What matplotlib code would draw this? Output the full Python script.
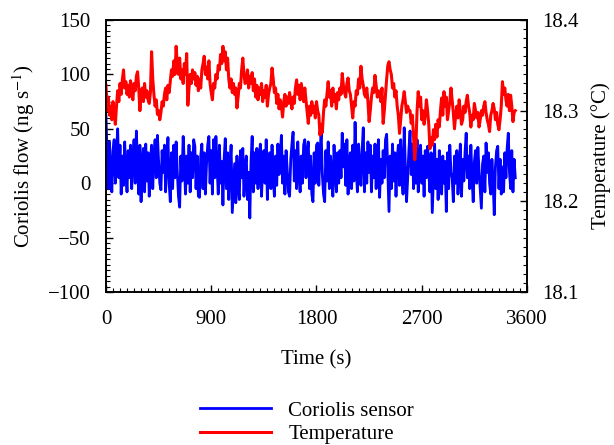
import numpy as np
import matplotlib
matplotlib.use('Agg')
import matplotlib.pyplot as plt
from matplotlib.ticker import MultipleLocator

plt.rcParams['font.family'] = ['Liberation Serif', 'DejaVu Serif']
plt.rcParams['mathtext.fontset'] = 'stix'
plt.rcParams['font.size'] = 15

# Coriolis flow (ng/s), one reading every 10 s
coriolis = [
    62, 25, -5, 38, 10, -8, 30, 40, 0, 28,
    50, 5, 35, -10, 25, -2, 38, 12, -8, 30,
    5, 35, -5, 22, 40, 0, 48, 15, -10, 35,
    -17, 20, 32, -8, 36, 2, 28, -12, 20, 35,
    -5, 25, 40, 5, 44, 20, 0, -6, 30, 10,
    35, -8, 20, 42, 0, -17, 28, -5, 35, 5,
    38, 10, -12, -22, 25, 2, 43, 18, -10, 25,
    0, 35, -8, 28, 5, 40, 34, -5, 25, -12,
    -13, 25, 36, -5, 28, -10, 18, 35, 43, 0,
    30, -10, 40, 5, 43, 15, -10, 35, 0, 20,
    -20, 22, 41, -5, 28, -15, 15, 35, -27, -5,
    18, -18, 25, -5, -15, 30, 5, 32, -12, 15,
    25, -15, 10, -32, 20, 43, -8, 28, 0, 32,
    -5, 22, 36, -12, 15, 30, 0, 40, -15, 20,
    28, -5, 35, 5, -12, 25, -2, 36, 8, 25,
    44, 0, 25, -10, 30, 12, -8, -12, 22, 36,
    47, 2, 30, -5, 38, 10, -8, 25, 0, 35,
    40, 5, 28, 38, -5, 25, -10, -17, 28, 0,
    35, 37, -2, 28, 47, 8, -10, -17, 30, 2,
    38, -5, 25, 8, -12, 35, 10, -8, 28, 0,
    30, 5, 46, 15, 36, -2, 40, -10, 20, 28,
    -5, 35, 2, 56, 12, -8, 36, 15, -2, 30,
    51, -8, 28, 0, 38, 10, 35, -8, 25, 5,
    36, -5, 28, 40, -13, 22, 0, 30, 5, 40,
    45, 8, -26, 25, -5, 36, 2, 28, -12, 22,
    35, -2, 40, 10, -10, 51, 15, -17, 5, 30,
    48, 8, 36, -5, 28, 0, 40, -8, 22, 35,
    0, 25, -12, 30, 5, 34, 10, -8, 28, -27,
    5, 36, -5, 22, -15, 30, 5, -10, 25, 0,
    20, -26, 28, -5, 35, 10, 5, -17, 25, 0,
    30, -10, 15, 36, -12, 22, 2, 28, 46, 5,
    25, -5, 35, 5, -17, 20, 30, 0, 33, 12,
    -5, -23, 18, 25, -8, 37, 10, 28, 0, -10,
    22, 2, -29, 15, 30, 34, -5, 22, -10, 15,
    -8, 28, 5, 32, 46, 10, -5, 30, -8, 22,
    5,
]

# Temperature (degC), same readings
temperature = [
    18.328, 18.300, 18.315, 18.295, 18.305, 18.290, 18.310, 18.298, 18.285, 18.305,
    18.322, 18.310, 18.330, 18.318, 18.334, 18.345, 18.325, 18.332, 18.318, 18.328,
    18.315, 18.333, 18.320, 18.312, 18.330, 18.322, 18.338, 18.343, 18.325, 18.300,
    18.318, 18.325, 18.310, 18.330, 18.315, 18.322, 18.312, 18.308, 18.320, 18.365,
    18.335, 18.318, 18.305, 18.312, 18.296, 18.300, 18.290, 18.298, 18.310, 18.305,
    18.318, 18.325, 18.312, 18.328, 18.320, 18.332, 18.345, 18.338, 18.355, 18.340,
    18.371, 18.350, 18.340, 18.358, 18.335, 18.345, 18.330, 18.352, 18.340, 18.363,
    18.306, 18.325, 18.340, 18.330, 18.345, 18.335, 18.342, 18.328, 18.338, 18.322,
    18.335, 18.325, 18.345, 18.352, 18.360, 18.340, 18.348, 18.335, 18.355, 18.330,
    18.320, 18.312, 18.330, 18.325, 18.340, 18.335, 18.350, 18.345, 18.362, 18.352,
    18.371, 18.355, 18.365, 18.345, 18.358, 18.335, 18.325, 18.335, 18.320, 18.330,
    18.318, 18.325, 18.303, 18.315, 18.330, 18.325, 18.345, 18.358, 18.340, 18.330,
    18.335, 18.345, 18.325, 18.338, 18.330, 18.342, 18.322, 18.335, 18.315, 18.328,
    18.312, 18.325, 18.318, 18.330, 18.310, 18.322, 18.315, 18.328, 18.305, 18.318,
    18.325, 18.330, 18.347, 18.335, 18.320, 18.325, 18.308, 18.318, 18.302, 18.312,
    18.305, 18.293, 18.310, 18.318, 18.305, 18.315, 18.308, 18.320, 18.310, 18.302,
    18.315, 18.308, 18.325, 18.334, 18.318, 18.328, 18.312, 18.330, 18.320, 18.310,
    18.325, 18.312, 18.300, 18.286, 18.305, 18.295, 18.310, 18.298, 18.305, 18.292,
    18.310, 18.300, 18.295, 18.273, 18.285, 18.276, 18.298, 18.312, 18.305, 18.318,
    18.332, 18.315, 18.322, 18.305, 18.325, 18.310, 18.318, 18.302, 18.320, 18.312,
    18.325, 18.318, 18.341, 18.328, 18.320, 18.315, 18.330, 18.336, 18.322, 18.318,
    18.305, 18.292, 18.310, 18.305, 18.322, 18.318, 18.335, 18.325, 18.349, 18.335,
    18.328, 18.318, 18.315, 18.325, 18.310, 18.288, 18.300, 18.315, 18.325, 18.320,
    18.339, 18.328, 18.315, 18.322, 18.320, 18.310, 18.325, 18.286, 18.300, 18.318,
    18.335, 18.350, 18.354, 18.345, 18.340, 18.325, 18.330, 18.315, 18.322, 18.305,
    18.295, 18.275, 18.290, 18.305, 18.312, 18.321, 18.310, 18.298, 18.305, 18.300,
    18.300, 18.286, 18.295, 18.270, 18.246, 18.262, 18.300, 18.321, 18.305, 18.315,
    18.290, 18.300, 18.285, 18.295, 18.312, 18.300, 18.285, 18.258, 18.270, 18.262,
    18.279, 18.268, 18.285, 18.271, 18.290, 18.282, 18.300, 18.314, 18.295, 18.321,
    18.305, 18.315, 18.290, 18.300, 18.310, 18.325, 18.312, 18.298, 18.280, 18.295,
    18.305, 18.292, 18.312, 18.300, 18.285, 18.290, 18.305, 18.298, 18.310, 18.317,
    18.305, 18.298, 18.282, 18.295, 18.290, 18.308, 18.300, 18.292, 18.298, 18.282,
    18.290, 18.300, 18.295, 18.305, 18.310, 18.298, 18.290, 18.285, 18.277, 18.295,
    18.300, 18.308, 18.302, 18.290, 18.298, 18.285, 18.279, 18.290, 18.305, 18.332,
    18.318, 18.325, 18.312, 18.305, 18.318, 18.300, 18.317, 18.305, 18.288, 18.298,
    18.300,
]

# sampling times (s)
time = np.linspace(0, 3500, len(coriolis))

fig = plt.figure(figsize=(6.14, 4.45), dpi=100)
ax = fig.add_axes([0.1726, 0.3438, 0.6857, 0.6112])
ax2 = ax.twinx()

l1, = ax.plot(time, coriolis, color='#0000ff', lw=2.0, label='Coriolis sensor')
l2, = ax2.plot(time, temperature, color='#ff0000', lw=2.2, label='Temperature')

ax.set_xlim(0, 3600)
ax.set_ylim(-100, 150)
ax2.set_ylim(18.1, 18.4)

ax.xaxis.set_major_locator(MultipleLocator(900))
ax.xaxis.set_minor_locator(MultipleLocator(60))
ax.yaxis.set_major_locator(MultipleLocator(50))
ax.yaxis.set_minor_locator(MultipleLocator(5))
ax2.yaxis.set_major_locator(MultipleLocator(0.1))
ax2.yaxis.set_minor_locator(MultipleLocator(0.01))

for a in (ax, ax2):
    a.tick_params(which='both', direction='in', pad=11)
    a.tick_params(which='major', length=5, width=1)
    a.tick_params(which='minor', length=3, width=0.8)
    for s in a.spines.values():
        s.set_linewidth(1.2)
ax.tick_params(axis='x', which='both', pad=13)

ax.set_xlabel('Time (s)', labelpad=15)
ax.set_ylabel(r'Coriolis flow (ng s$^{-1}$)', labelpad=8)
ax2.set_ylabel('Temperature (°C)', labelpad=9)

fig.legend(handles=[l1, l2], loc='center', bbox_to_anchor=(0.5, 0.05),
           frameon=False, handlelength=3.4, handletextpad=0.85, labelspacing=0.2)

fig.savefig('out.png', dpi=100)
